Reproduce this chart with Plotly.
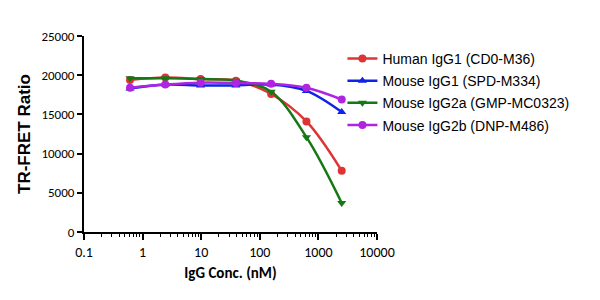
import plotly.graph_objects as go

conc = [0.61, 2.44, 9.77, 39.1, 156, 625, 2500]
human_igg1 = [19400, 19700, 19500, 19300, 17600, 14100, 7800]
mouse_igg1 = [18300, 18800, 18700, 18700, 18800, 18000, 15300]
mouse_igg2a = [19600, 19600, 19500, 19300, 17900, 12100, 3700]
mouse_igg2b = [18400, 18800, 19050, 19000, 18900, 18400, 16900]

series = [
    ("Human IgG1 (CD0-M36)", human_igg1, "#dd3535", "circle"),
    ("Mouse IgG1 (SPD-M334)", mouse_igg1, "#1022e8", "triangle-up"),
    ("Mouse IgG2a (GMP-MC0323)", mouse_igg2a, "#157815", "triangle-down"),
    ("Mouse IgG2b (DNP-M486)", mouse_igg2b, "#b023e0", "circle"),
]

x_tickvals = [0.1, 1, 10, 100, 1000, 10000]
x_ticktext = ["0.1", "1", "10", "100", "1000", "10000"]
x_minor = [m * d for d in [0.1, 1, 10, 100, 1000] for m in range(2, 10)]
y_tickvals = [0, 5000, 10000, 15000, 20000, 25000]
y_ticktext = ["0", "5000", "10000", "15000", "20000", "25000"]

fig = go.Figure()
# invisible trace on the overlay axis that carries the minor ticks
fig.add_trace(go.Scatter(x=conc, y=human_igg1, xaxis="x2", yaxis="y",
                         mode="lines", line=dict(width=0, color="rgba(0,0,0,0)"),
                         showlegend=False, hoverinfo="skip"))
for i, (name, vals, color, sym) in enumerate(series):
    fig.add_trace(go.Scatter(
        x=conc, y=vals, name=name, mode="lines+markers", legendgroup=f"g{i}",
        line=dict(color=color, width=2.5, shape="spline", smoothing=1.0),
        marker=dict(color=color, symbol=sym, size=8),
    ))

tick_font = "Carlito, Open Sans, sans-serif"
fig.update_layout(
    width=600, height=300,
    margin=dict(l=84, r=223, t=36, b=68),
    plot_bgcolor="white", paper_bgcolor="white",
    font=dict(family="Arial, Liberation Sans, sans-serif", size=12, color="black"),
    showlegend=True,
    legend=dict(x=0.882, y=0.965, xanchor="left", yanchor="top",
                font=dict(size=14, family="Arial, Liberation Sans, sans-serif"),
                itemwidth=30, bgcolor="rgba(0,0,0,0)",
                traceorder="grouped", tracegroupgap=1),
    xaxis2=dict(type="log", range=[-1, 4], overlaying="x", anchor="y",
                side="bottom", tickmode="array", tickvals=x_minor,
                ticks="outside", ticklen=4, tickwidth=1.3, tickcolor="black",
                showticklabels=False, showgrid=False, showline=False, zeroline=False),
)
fig.layout.xaxis.update(
    type="log", range=[-1, 4],
    tickmode="array", tickvals=x_tickvals, ticktext=x_ticktext,
    ticks="outside", ticklen=6, tickwidth=1.6, tickcolor="black",
    showline=True, linecolor="black", linewidth=2,
    showgrid=False, zeroline=False,
    tickfont=dict(size=14, family=tick_font),
    title=dict(text="<b>IgG Conc. (nM)</b>", font=dict(size=15, family=tick_font), standoff=8),
)
fig.update_yaxes(
    range=[0, 25000], tickmode="array", tickvals=y_tickvals, ticktext=y_ticktext,
    ticks="outside", ticklen=5, tickwidth=1.6, tickcolor="black",
    showline=True, linecolor="black", linewidth=2,
    showgrid=False, zeroline=False,
    tickfont=dict(size=13, family=tick_font),
    title=dict(text="<b>TR-FRET Ratio</b>", font=dict(size=17), standoff=6),
)

fig.write_html("out.html")
